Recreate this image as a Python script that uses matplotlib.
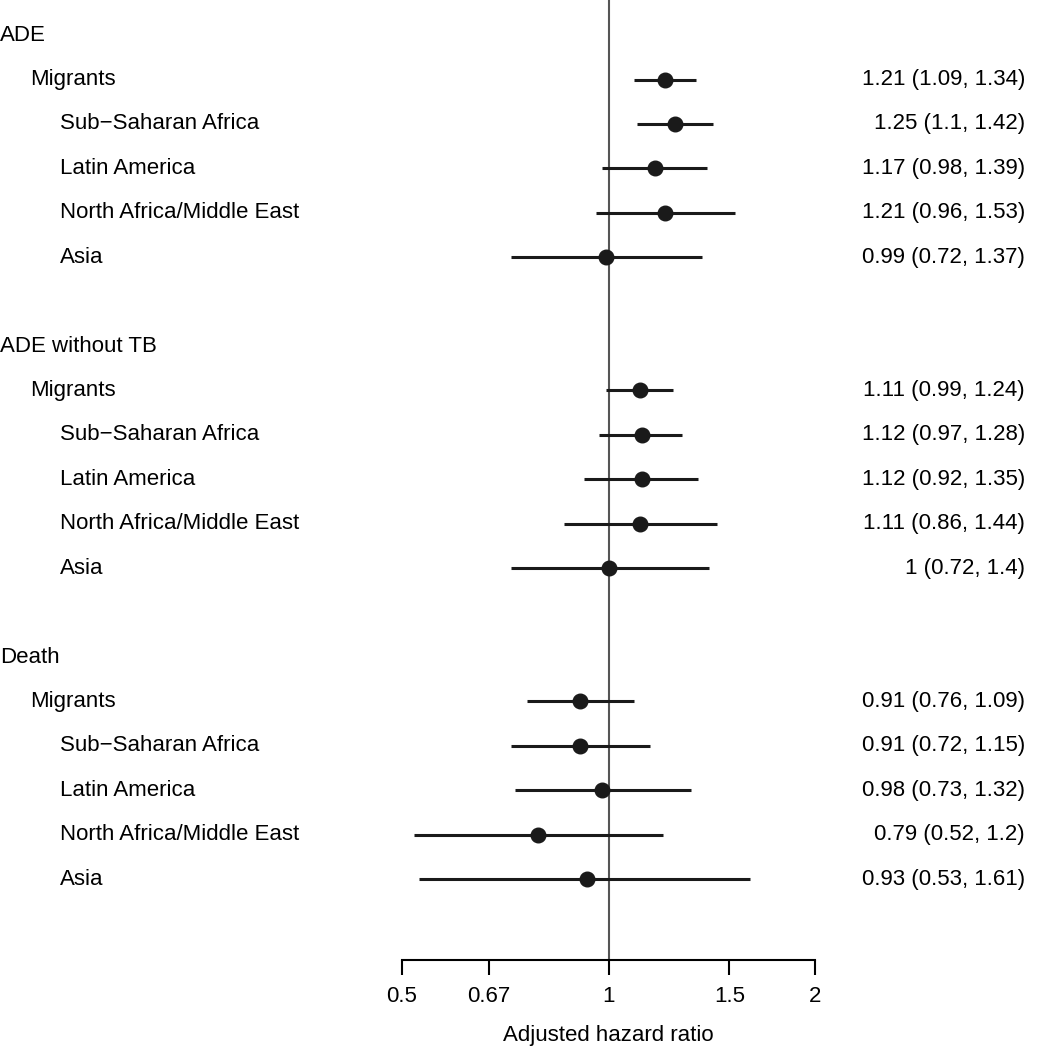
import numpy as np
import matplotlib
matplotlib.use("Agg")
import matplotlib.pyplot as plt
import matplotlib.transforms as mtransforms

plt.rcParams['font.family'] = ['Liberation Sans', 'DejaVu Sans']

# rows: group header, then the five subgroups
groups = ['ADE', 'ADE without TB', 'Death']
subgroups = ['Migrants', 'Sub\u2212Saharan Africa', 'Latin America',
             'North Africa/Middle East', 'Asia']
hr = [[1.21, 1.25, 1.17, 1.21, 0.99],
      [1.11, 1.12, 1.12, 1.11, 1.00],
      [0.91, 0.91, 0.98, 0.79, 0.93]]
lo = [[1.09, 1.10, 0.98, 0.96, 0.72],
      [0.99, 0.97, 0.92, 0.86, 0.72],
      [0.76, 0.72, 0.73, 0.52, 0.53]]
hi = [[1.34, 1.42, 1.39, 1.53, 1.37],
      [1.24, 1.28, 1.35, 1.44, 1.40],
      [1.09, 1.15, 1.32, 1.20, 1.61]]
labels_txt = [['1.21 (1.09, 1.34)', '1.25 (1.1, 1.42)', '1.17 (0.98, 1.39)',
               '1.21 (0.96, 1.53)', '0.99 (0.72, 1.37)'],
              ['1.11 (0.99, 1.24)', '1.12 (0.97, 1.28)', '1.12 (0.92, 1.35)',
               '1.11 (0.86, 1.44)', '1 (0.72, 1.4)'],
              ['0.91 (0.76, 1.09)', '0.91 (0.72, 1.15)', '0.98 (0.73, 1.32)',
               '0.79 (0.52, 1.2)', '0.93 (0.53, 1.61)']]
xticks = [0.5, 0.67, 1, 1.5, 2]
xtick_labels = ['0.5', '0.67', '1', '1.5', '2']

W, H = 1045, 1050
fig = plt.figure(figsize=(W / 100, H / 100), dpi=100)
ax = fig.add_axes([402 / W, 1 - 960 / H, 413 / W, 960 / H])
ax.set_xscale('log')
ax.set_xlim(0.5, 2)
ax.set_ylim(20.82, -0.79)

trans = mtransforms.blended_transform_factory(fig.transFigure, ax.transData)
fs = 16

for g, gname in enumerate(groups):
    row = g * 7
    ax.text(0 / W, row, gname, transform=trans, fontsize=fs, va='center', ha='left')
    for i, sname in enumerate(subgroups):
        r = row + 1 + i
        indent = 30 if i == 0 else 60
        ax.text(indent / W, r, sname, transform=trans, fontsize=fs, va='center', ha='left')
        ax.plot([lo[g][i], hi[g][i]], [r, r], color='#1a1a1a', lw=2.2,
                solid_capstyle='butt', zorder=3)
        ax.plot(hr[g][i], r, 'o', color='#1a1a1a', ms=10.5, zorder=4)
        ax.text(1025 / W, r, labels_txt[g][i], transform=trans, fontsize=fs,
                va='center', ha='right')

ax.axvline(1, color='#555555', lw=1.5, zorder=2, clip_on=False)

for s in ['top', 'right', 'left']:
    ax.spines[s].set_visible(False)
ax.spines['bottom'].set_linewidth(1.5)
ax.spines['bottom'].set_bounds(0.5, 2)
ax.set_yticks([])
ax.set_xticks(xticks)
ax.set_xticklabels(xtick_labels)
ax.minorticks_off()
ax.tick_params(axis='x', length=11, width=1.5, pad=8, labelsize=fs)
fig.text((402 + 815) / 2 / W, 1 - 1036 / H, 'Adjusted hazard ratio',
         fontsize=fs, ha='center', va='center')

fig.savefig('out.png', dpi=100)
